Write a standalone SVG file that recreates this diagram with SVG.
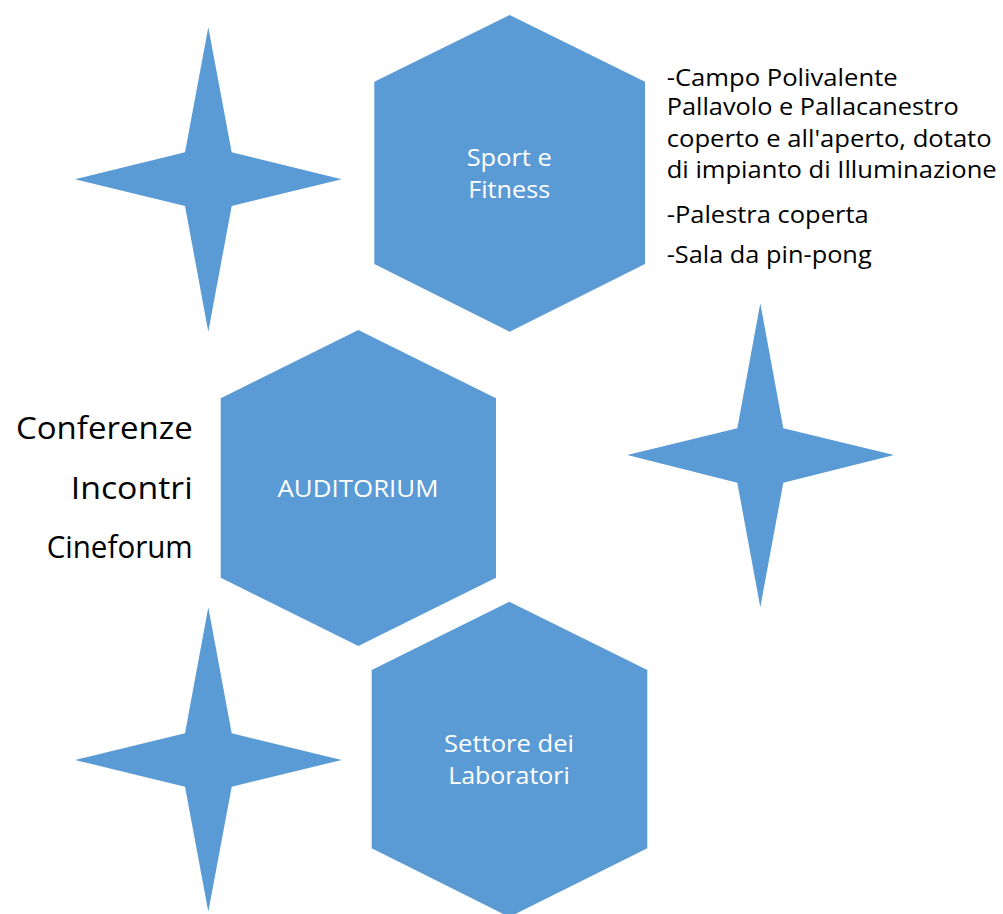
<svg xmlns="http://www.w3.org/2000/svg" width="1003" height="914" viewBox="0 0 1003 914">
<style>
.shape{fill:#5B9BD5;stroke:none}
.in{font-family:"Open Sans","Noto Sans","Liberation Sans",sans-serif;fill:#FFFFFF;font-size:24px}
.out{font-family:"Open Sans","Noto Sans","Liberation Sans",sans-serif;fill:#000000;font-size:23.5px}
.big{font-family:"Open Sans","Noto Sans","Liberation Sans",sans-serif;fill:#000000;font-size:31px}
</style>
<rect width="1003" height="914" fill="#FFFFFF"/>
<g id="star1"><polygon class="shape" points="208.3,27.3 231.7,152.3 341.7,179.3 231.7,206 208.3,331.7 185,206 75,179.3 185,152.3"/></g>
<g id="star2"><polygon class="shape" points="760.3,303.3 783.3,428.3 894,455 783.3,482.7 760.3,607.3 737.3,482.7 627.3,455 737.3,428.3"/></g>
<g id="star3"><polygon class="shape" points="208.3,607.3 231.7,733.3 341.7,760 231.7,786.7 208.3,911.7 185,786.7 75,760 185,733.3"/></g>
<g id="sport">
<polygon class="shape" points="509.7,15 645,81.7 645,264 509.7,331.7 374.3,264 374.3,81.7"/>
<text class="in" x="509.2" y="166" text-anchor="middle" textLength="85" lengthAdjust="spacingAndGlyphs">Sport e</text>
<text class="in" x="509.2" y="198.3" text-anchor="middle" textLength="82" lengthAdjust="spacingAndGlyphs">Fitness</text>
</g>
<g id="sport-details">
<text class="out" x="666.7" y="85.7" textLength="231" lengthAdjust="spacingAndGlyphs">-Campo Polivalente</text>
<text class="out" x="666.7" y="115" textLength="292" lengthAdjust="spacingAndGlyphs">Pallavolo e Pallacanestro</text>
<text class="out" x="666.7" y="146.7" textLength="325" lengthAdjust="spacingAndGlyphs">coperto e all'aperto, dotato</text>
<text class="out" x="666.7" y="178" textLength="330" lengthAdjust="spacingAndGlyphs">di impianto di Illuminazione</text>
<text class="out" x="666.7" y="223" textLength="202" lengthAdjust="spacingAndGlyphs">-Palestra coperta</text>
<text class="out" x="666.7" y="263" textLength="205" lengthAdjust="spacingAndGlyphs">-Sala da pin-pong</text>
</g>
<g id="auditorium">
<polygon class="shape" points="358.3,330 496,398.3 496,577.7 358.3,646 220.7,577.7 220.7,398.3"/>
<text class="in" x="358" y="496.7" text-anchor="middle" textLength="161" lengthAdjust="spacingAndGlyphs">AUDITORIUM</text>
</g>
<g id="auditorium-details">
<text class="big" x="192.7" y="439" text-anchor="end" textLength="176.7" lengthAdjust="spacingAndGlyphs">Conferenze</text>
<text class="big" x="192.7" y="499" text-anchor="end" textLength="122" lengthAdjust="spacingAndGlyphs">Incontri</text>
<text class="big" x="192.7" y="558" text-anchor="end" textLength="146" lengthAdjust="spacingAndGlyphs">Cineforum</text>
</g>
<g id="laboratori">
<polygon class="shape" points="509.3,601.7 647.3,670 647.3,848.3 509.3,917 371.7,848.3 371.7,670"/>
<text class="in" x="509" y="752.3" text-anchor="middle" textLength="130" lengthAdjust="spacingAndGlyphs">Settore dei</text>
<text class="in" x="509" y="784" text-anchor="middle" textLength="121.7" lengthAdjust="spacingAndGlyphs">Laboratori</text>
</g>
</svg>
